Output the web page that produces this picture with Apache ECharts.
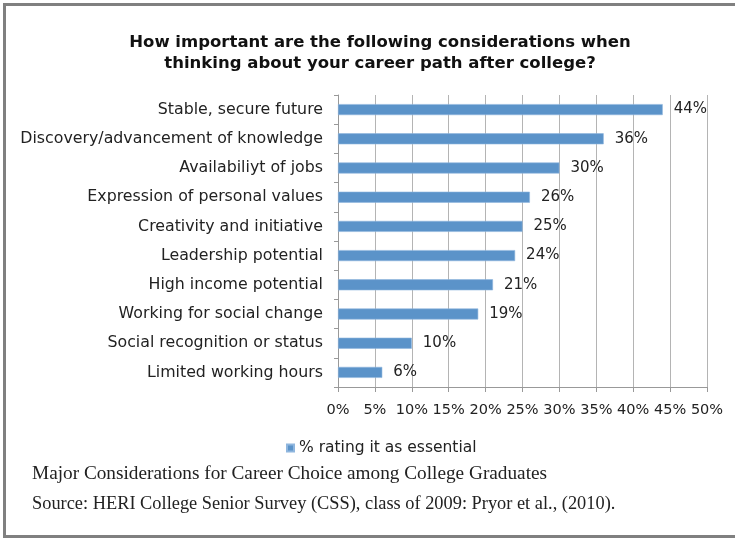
<!DOCTYPE html>
<html>
<head>
<meta charset="utf-8">
<script src="https://cdn.jsdelivr.net/npm/echarts@6/dist/echarts.min.js"></script>
<style>
  html, body { margin: 0; padding: 0; background: #fff; }
  #chart { width: 735px; height: 538px; }
</style>
</head>
<body>
<div id="chart"></div>
<script>
// Considerations, top to bottom
const categories = [
  'Stable, secure future',
  'Discovery/advancement of knowledge',
  'Availabiliyt of jobs',
  'Expression of personal values',
  'Creativity and initiative',
  'Leadership potential',
  'High income potential',
  'Working for social change',
  'Social recognition or status',
  'Limited working hours'
];
// Percent rating each consideration as essential
const essentialPct = [44, 36, 30, 26, 25, 24, 21, 19, 10, 6];
const seriesName = '% rating it as essential';
const titleLines = [
  'How important are the following considerations when',
  'thinking about your career path after college?'
];
const captionLines = [
  'Major Considerations for Career Choice among College Graduates',
  'Source: HERI College Senior Survey (CSS), class of 2009: Pryor et al., (2010).'
];

const sans = 'DejaVu Sans';
const serif = 'Liberation Serif';
const chart = echarts.init(document.getElementById('chart'));

chart.setOption({
  animation: false,
  backgroundColor: '#ffffff',
  title: {
    text: titleLines.join('\n'),
    left: 375,
    top: 27,
    textAlign: 'center',
    textStyle: {
      fontFamily: sans,
      fontSize: 16.5,
      fontWeight: 'bold',
      color: '#111',
      lineHeight: 21
    }
  },
  legend: {
    data: [seriesName],
    left: 281,
    top: 435,
    itemWidth: 7,
    itemHeight: 7,
    itemGap: 6,
    icon: 'rect',
    textStyle: { fontFamily: sans, fontSize: 15.5, color: '#222' }
  },
  grid: { left: 338, right: 28, top: 95, bottom: 151 },
  xAxis: {
    type: 'value',
    min: 0,
    max: 50,
    interval: 5,
    axisLine: { show: true, lineStyle: { color: '#999', width: 1 } },
    axisTick: { show: true, length: 5, lineStyle: { color: '#999' } },
    splitLine: { show: true, lineStyle: { color: '#b4b4b4', width: 1 } },
    axisLabel: {
      formatter: '{value}%',
      fontFamily: sans,
      fontSize: 14.5,
      color: '#222',
      margin: 16
    }
  },
  yAxis: {
    type: 'category',
    data: categories,
    inverse: true,
    axisLine: { show: true, lineStyle: { color: '#999', width: 1 } },
    axisTick: { show: true, length: 4, lineStyle: { color: '#999' } },
    axisLabel: {
      fontFamily: sans,
      fontSize: 15.8,
      color: '#222',
      margin: 15
    }
  },
  series: [{
    name: seriesName,
    type: 'bar',
    data: essentialPct,
    barWidth: 11,
    itemStyle: { color: '#5b93c9', borderColor: '#8fb6de', borderWidth: 0.6 },
    label: {
      show: true,
      position: 'right',
      distance: 11,
      formatter: '{c}%',
      fontFamily: sans,
      fontSize: 15,
      color: '#222'
    }
  }],
  graphic: [
    {
      type: 'rect',
      shape: { x: 4.5, y: 4.5, width: 800, height: 532 },
      style: { fill: 'none', stroke: '#808080', lineWidth: 3 },
      silent: true
    },
    {
      type: 'text',
      x: 32,
      y: 465,
      scaleX: 1.07,
      style: { text: captionLines[0], fontFamily: serif, fontSize: 18, fill: '#222' }
    },
    {
      type: 'text',
      x: 32,
      y: 495,
      scaleX: 1.02,
      style: { text: captionLines[1], fontFamily: serif, fontSize: 18, fill: '#222' }
    }
  ]
});
</script>
</body>
</html>
